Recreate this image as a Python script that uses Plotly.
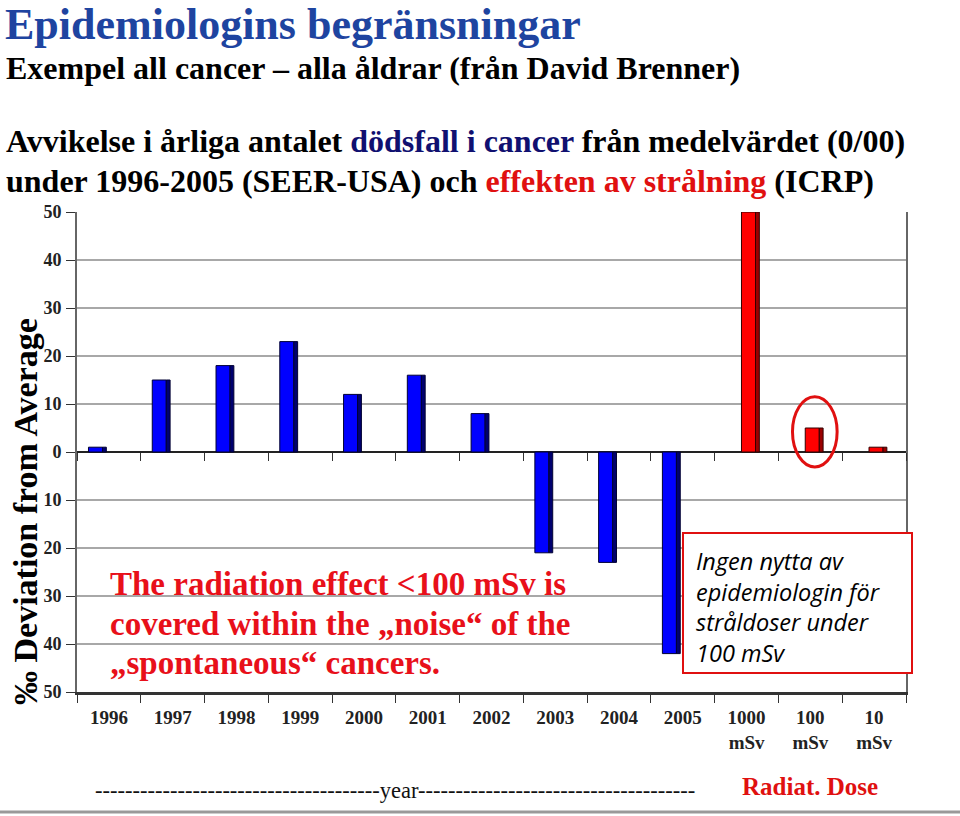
import plotly.graph_objects as go

categories = ["1996", "1997", "1998", "1999", "2000", "2001", "2002", "2003", "2004", "2005",
              "1000 mSv", "100 mSv", "10 mSv"]
tick_labels = ["1996", "1997", "1998", "1999", "2000", "2001", "2002", "2003", "2004", "2005",
               "1000<br>mSv", "100<br>mSv", "10<br>mSv"]
year_values = [1, 15, 18, 23, 12, 16, 8, -21, -23, -42, None, None, None]
dose_values = [None, None, None, None, None, None, None, None, None, None, 50, 5, 1]
y_ticks = [-50, -40, -30, -20, -10, 0, 10, 20, 30, 40, 50]
y_tick_text = ["<b>" + str(abs(v)) + "</b>" for v in y_ticks]

W, H = 960, 816
L, R, T, B = 77, 906, 212, 692


def px(x):
    return (x - L) / (R - L)


def py(y):
    return (B - y) / (B - T)


SERIF = "Liberation Serif, Times New Roman, serif"

fig = go.Figure()

# front faces
fig.add_trace(go.Bar(x=categories, y=year_values, offset=-0.32, width=0.22,
                     marker=dict(color="#0000FF", line=dict(color="#000033", width=1)),
                     showlegend=False, hoverinfo="x+y"))
fig.add_trace(go.Bar(x=categories, y=dose_values, offset=-0.08, width=0.22,
                     marker=dict(color="#FF0000", line=dict(color="#330000", width=1)),
                     showlegend=False, hoverinfo="x+y"))
# side faces (3D look)
fig.add_trace(go.Bar(x=categories, y=year_values, offset=-0.10, width=0.06,
                     marker=dict(color="#00006E", line=dict(color="#000033", width=1)),
                     showlegend=False, hoverinfo="skip"))
fig.add_trace(go.Bar(x=categories, y=dose_values, offset=0.14, width=0.06,
                     marker=dict(color="#9A0000", line=dict(color="#330000", width=1)),
                     showlegend=False, hoverinfo="skip"))
# invisible trace for the zero-line tick axis
fig.add_trace(go.Scatter(x=categories, y=[0] * len(categories), xaxis="x2", mode="markers",
                         marker=dict(opacity=0), showlegend=False, hoverinfo="skip"))

fig.update_layout(
    width=W, height=H,
    margin=dict(l=L, r=W - R, t=T, b=H - B),
    paper_bgcolor="white", plot_bgcolor="white",
    barmode="overlay",
    xaxis=dict(type="category", categoryorder="array", categoryarray=categories,
               tickvals=categories, ticktext=["<b>" + t + "</b>" for t in tick_labels],
               tickson="boundaries", ticks="outside", ticklen=8, tickcolor="#333",
               ticklabelstandoff=6,
               showline=True, linecolor="#333", linewidth=3,
               showgrid=False, range=[-0.5, 12.5],
               tickfont=dict(family=SERIF, size=19, color="#222"),
               fixedrange=True),
    xaxis2=dict(type="category", overlaying="x", matches="x", anchor="free", position=0.5,
                tickson="boundaries", ticks="outside", ticklen=8, tickcolor="#333",
                showticklabels=False, showline=False, showgrid=False,
                categoryorder="array", categoryarray=categories),
    yaxis=dict(range=[-50, 50], tickvals=y_ticks, ticktext=y_tick_text,
               ticks="outside", ticklen=9, tickcolor="#333", ticklabelstandoff=1,
               showline=True, linecolor="#666", linewidth=2, mirror=True,
               showgrid=True, gridcolor="#A8A8A8", gridwidth=2,
               zeroline=True, zerolinecolor="#222", zerolinewidth=2,
               tickfont=dict(family=SERIF, size=18, color="#222"),
               fixedrange=True),
)


def ann(text, x, y, size, color="black", family=SERIF, xanchor="left", yanchor="middle",
        textangle=0, bold=True, italic=False):
    t = text
    if bold:
        t = "<b>" + t + "</b>"
    if italic:
        t = "<i>" + t + "</i>"
    fig.add_annotation(text=t, x=px(x), y=py(y), xref="paper", yref="paper",
                       xanchor=xanchor, yanchor=yanchor, showarrow=False, textangle=textangle,
                       font=dict(family=family, size=size, color=color))


# Header text
ann("Epidemiologins begränsningar", 3, 25, 44, color="#1E44A0")
ann("Exempel all cancer – alla åldrar (från David Brenner)", 4, 68, 32)
ann("Avvikelse i årliga antalet <span style='color:#101070'>dödsfall i cancer</span> från medelvärdet (0/00)",
    4, 141, 32)
ann("under 1996-2005 (SEER-USA) och <span style='color:#E01010'>effekten av strålning</span> (ICRP)",
    4, 181, 32)

# y-axis title
ann("‰ Deviation from Average", 25, 512, 34, xanchor="center", textangle=-90)

# red annotation text in plot
red_lines = ["The radiation effect &lt;100 mSv is", "covered within the „noise“ of the",
             "„spontaneous“ cancers."]
for i, line in enumerate(red_lines):
    ann(line, 108, 584 + i * 39.5, 33, color="#E8101A")

# text box
fig.add_shape(type="rect", xref="paper", yref="paper", x0=px(683), x1=px(912),
              y0=py(533), y1=py(673), line=dict(color="#E01010", width=2), fillcolor="white",
              layer="above")
box_lines = ["Ingen nytta av", "epidemiologin för", "stråldoser under", "100 mSv"]
for i, line in enumerate(box_lines):
    ann(line, 694, 561 + i * 30.5, 23.5, family="Open Sans, Noto Sans, sans-serif",
        bold=False, italic=True)

# red ellipse around 100 mSv
fig.add_shape(type="circle", xref="x", yref="y", x0=10.72, x1=11.42, y0=-3.1, y1=11.5,
              line=dict(color="#E01010", width=3))

# bottom labels
ann("-" * 38 + "year" + "-" * 37, 93, 790, 22.5, bold=False, color="#111")
ann("Radiat. Dose", 740, 786, 25, color="#E01010")

# bottom rule
fig.add_shape(type="line", xref="paper", yref="paper", x0=px(0), x1=px(960),
              y0=py(812), y1=py(812), line=dict(color="#999", width=3))

fig.write_html("out.html", config={"displayModeBar": False},
               post_script="document.body.style.margin='0px';")
